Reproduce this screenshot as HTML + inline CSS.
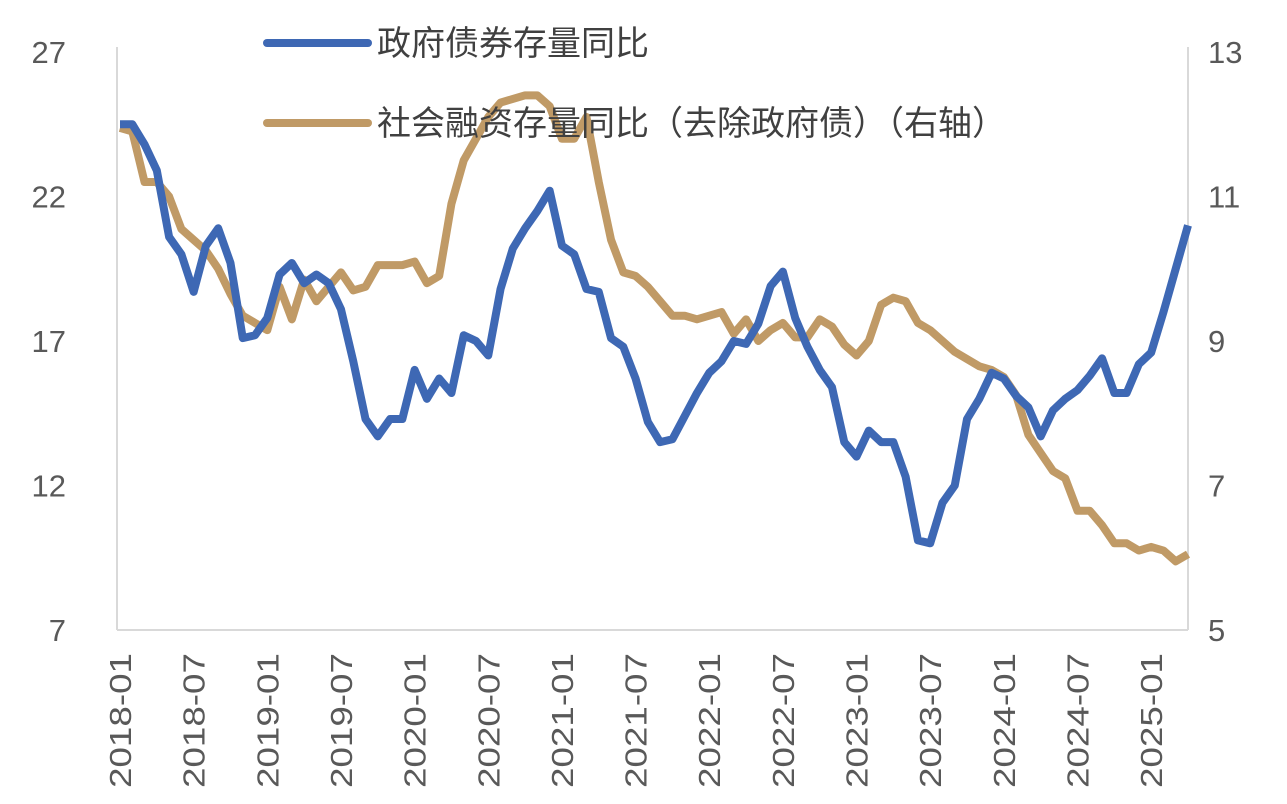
<!DOCTYPE html>
<html><head><meta charset="utf-8"><style>
body{margin:0;background:#fff;}
svg{display:block;font-family:"Liberation Sans","Noto Sans CJK SC",sans-serif;}
</style></head><body>
<svg id="c" width="1287" height="804"></svg>
<script>
const months=[];for(let i=0;i<88;i++){const y=2018+Math.floor(i/12),m=i%12+1;months.push(y+'-'+(m<10?'0':'')+m);}
const govBond=[24.5,24.5,23.8,22.9,20.6,20.0,18.7,20.3,20.9,19.7,17.1,17.2,17.8,19.3,19.7,19.0,19.3,19.0,18.1,16.3,14.3,13.7,14.3,14.3,16.0,15.0,15.7,15.2,17.2,17.0,16.5,18.8,20.2,20.9,21.5,22.2,20.3,20.0,18.8,18.7,17.1,16.8,15.7,14.2,13.5,13.6,14.4,15.2,15.9,16.3,17.0,16.9,17.6,18.9,19.4,17.8,16.8,16.0,15.4,13.5,13.0,13.9,13.5,13.5,12.3,10.1,10.0,11.4,12.0,14.3,15.0,15.9,15.7,15.1,14.7,13.7,14.6,15.0,15.3,15.8,16.4,15.2,15.2,16.2,16.6,18.0,19.5,21.0];
const tsfExGov=[11.95,11.9,11.2,11.2,11.0,10.55,10.4,10.25,10.0,9.65,9.35,9.25,9.15,9.75,9.3,9.85,9.55,9.75,9.95,9.7,9.75,10.05,10.05,10.05,10.1,9.8,9.9,10.9,11.5,11.8,12.1,12.3,12.35,12.4,12.4,12.25,11.8,11.8,12.1,11.2,10.4,9.95,9.9,9.75,9.55,9.35,9.35,9.3,9.35,9.4,9.1,9.3,9.0,9.15,9.25,9.05,9.05,9.3,9.2,8.95,8.8,9.0,9.5,9.6,9.55,9.25,9.15,9.0,8.85,8.75,8.65,8.6,8.5,8.25,7.7,7.45,7.2,7.1,6.65,6.65,6.45,6.2,6.2,6.1,6.15,6.1,5.95,6.05];
const leftTicks=[7,12,17,22,27];
const rightTicks=[5,7,9,11,13];
const xLabelIdx=[0,6,12,18,24,30,36,42,48,54,60,66,72,78,84];
const NS='http://www.w3.org/2000/svg',svg=document.getElementById('c');
const X0=120,X1=1188,YT=52,YB=630;
const x=i=>X0+(X1-X0)*i/(months.length-1);
const yL=v=>YB-(v-7)/20*(YB-YT);
const yR=v=>YB-(v-5)/8*(YB-YT);
function el(t,a){const e=document.createElementNS(NS,t);for(const k in a)e.setAttribute(k,a[k]);svg.appendChild(e);return e;}
let e;
e=el('line',{x1:117,y1:YT-5,x2:117,y2:YB,stroke:'#d9d9d9','stroke-width':2});

e=el('line',{x1:1188,y1:YT-5,x2:1188,y2:YB,stroke:'#d9d9d9','stroke-width':2});

e=el('line',{x1:117,y1:YB,x2:1188,y2:YB,stroke:'#d9d9d9','stroke-width':2});

leftTicks.forEach(v=>{const t=el('text',{x:66,y:yL(v)+11,'text-anchor':'end','font-size':31,fill:'#595959'});t.textContent=v;
});
rightTicks.forEach(v=>{const t=el('text',{x:1208,y:yR(v)+11,'font-size':31,fill:'#595959'});t.textContent=v;
});
xLabelIdx.forEach(i=>{const px=x(i)+11,py=653;const t=el('text',{x:px,y:py,transform:`rotate(-90 ${px} ${py})`,'text-anchor':'end','font-size':31,textLength:135,lengthAdjust:'spacingAndGlyphs',fill:'#595959'});t.textContent=months[i];
});
function line(vals,f,col,name){const p=el('polyline',{points:vals.map((v,i)=>x(i)+','+f(v)).join(' '),fill:'none',stroke:col,'stroke-width':8,'stroke-linejoin':'round'});
}
line(tsfExGov,yR,'#c09a66','tsf-ex-gov-line');
line(govBond,yL,'#3e68b4','gov-bond-line');
[[43,'#3e68b4','政府债券存量同比','legend-gov-bond'],[123,'#c09a66','社会融资存量同比（去除政府债）（右轴）','legend-tsf']].forEach(([yy,c,txt,n])=>{
const l=el('line',{x1:267,y1:yy,x2:368,y2:yy,stroke:c,'stroke-width':8,'stroke-linecap':'round'});

const t=el('text',{x:377,y:yy+12,'font-size':34,fill:'#404040'});t.textContent=txt;
});
</script>
</body></html>
